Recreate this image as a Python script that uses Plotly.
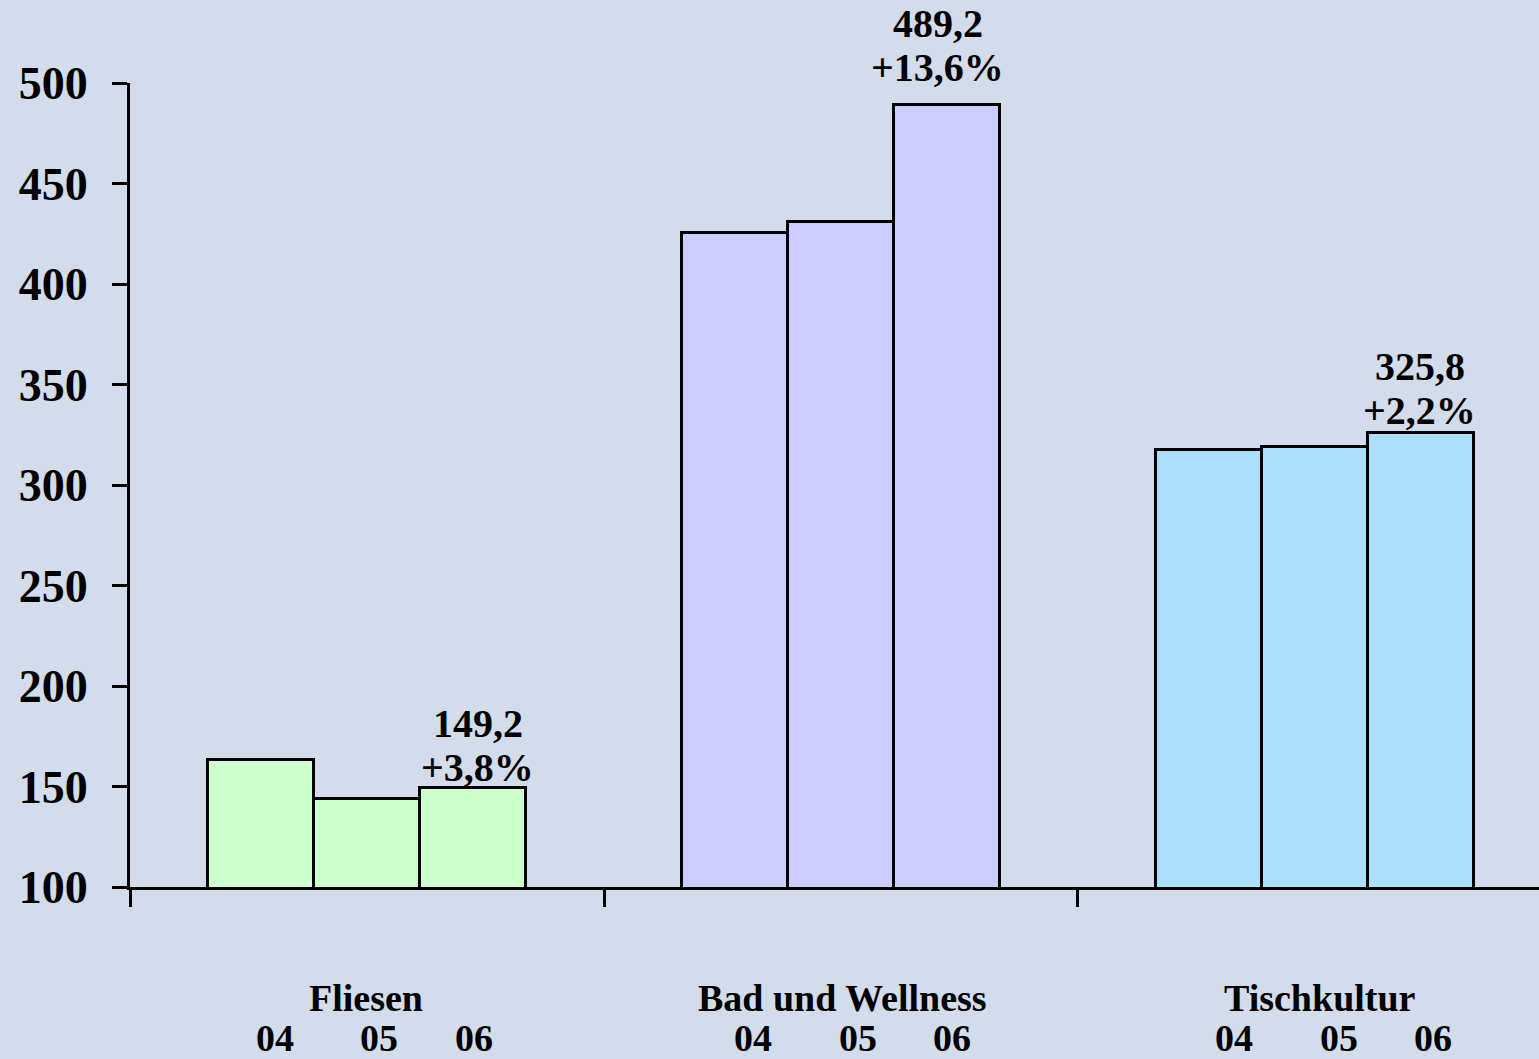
import plotly.graph_objects as go

categories = ['Fliesen', 'Bad und Wellness', 'Tischkultur']
years = ['04', '05', '06']
values_04 = [163.2, 425.4, 317.4]
values_05 = [143.7, 430.6, 318.8]
values_06 = [149.2, 489.2, 325.8]
value_labels = ['149,2', '489,2', '325,8']
growth_labels = ['+3,8%', '+13,6%', '+2,2%']
colors = ['#CCFFCC', '#CCCCFF', '#ADDEFC']

FONT = 'Liberation Serif, Times New Roman, serif'
bar_w = 0.2236
cat_x = list(range(len(categories)))

fig = go.Figure()
for i, vals in enumerate([values_04, values_05, values_06]):
    off = (i - 1) * bar_w
    fig.add_trace(go.Bar(
        x=[c + off for c in cat_x], y=vals, width=bar_w,
        marker=dict(color=colors, line=dict(color='black', width=3)),
        showlegend=False, hoverinfo='skip',
    ))

# label placement tweaks per group (pixels / axis units)
lbl_dx = [0.01, -0.02, -0.003]
lbl_dy = [2, 19, 4]
for c, v, vl, gl, dx, dy in zip(cat_x, values_06, value_labels, growth_labels, lbl_dx, lbl_dy):
    xl = c + bar_w + dx
    fig.add_annotation(x=xl, y=v, text='<b>' + gl + '</b>', showarrow=False,
                       yanchor='bottom', yshift=-6 + dy, font=dict(size=40, family=FONT, color='black'))
    fig.add_annotation(x=xl, y=v, text='<b>' + vl + '</b>', showarrow=False,
                       yanchor='bottom', yshift=38 + dy, font=dict(size=40, family=FONT, color='black'))

year_offsets = [-0.19, 0.03, 0.23]
group_dx = [-0.005, 0.005, 0.02]
for c, name, gdx in zip(cat_x, categories, group_dx):
    fig.add_annotation(x=c + gdx / 2, y=0, xref='x', yref='paper', text='<b>' + name + '</b>',
                       showarrow=False, yanchor='middle', yshift=-111,
                       font=dict(size=38, family=FONT, color='black'))
    for yr, o in zip(years, year_offsets):
        fig.add_annotation(x=c + o + gdx, y=0, xref='x', yref='paper', text='<b>' + yr + '</b>',
                           showarrow=False, yanchor='middle', yshift=-151,
                           font=dict(size=38, family=FONT, color='black'))

fig.update_layout(
    width=1539, height=1059,
    margin=dict(l=130, r=0, t=83, b=172),
    paper_bgcolor='#D2DCEA', plot_bgcolor='#D2DCEA',
    bargap=0, barmode='overlay',
    font=dict(family=FONT, color='black'),
)
fig.update_xaxes(
    range=[-0.5, 2.4726], tickvals=[-0.5, 0.5, 1.5, 2.5], ticktext=['', '', '', ''],
    showgrid=False, zeroline=False, showline=True, linecolor='black', linewidth=3,
    ticks='outside', ticklen=17, tickwidth=3, tickcolor='black',
)
fig.update_yaxes(
    range=[100, 500], tickvals=[100, 150, 200, 250, 300, 350, 400, 450, 500],
    showgrid=False, zeroline=False, showline=True, linecolor='black', linewidth=3,
    ticks='outside', ticklen=15, tickwidth=3, tickcolor='black',
    tickfont=dict(size=46, family=FONT, color='black', weight='bold'),
    ticklabelstandoff=15,
)

fig.write_html('out.html', config={'displayModeBar': False},
               post_script="document.body.style.margin='0';")
